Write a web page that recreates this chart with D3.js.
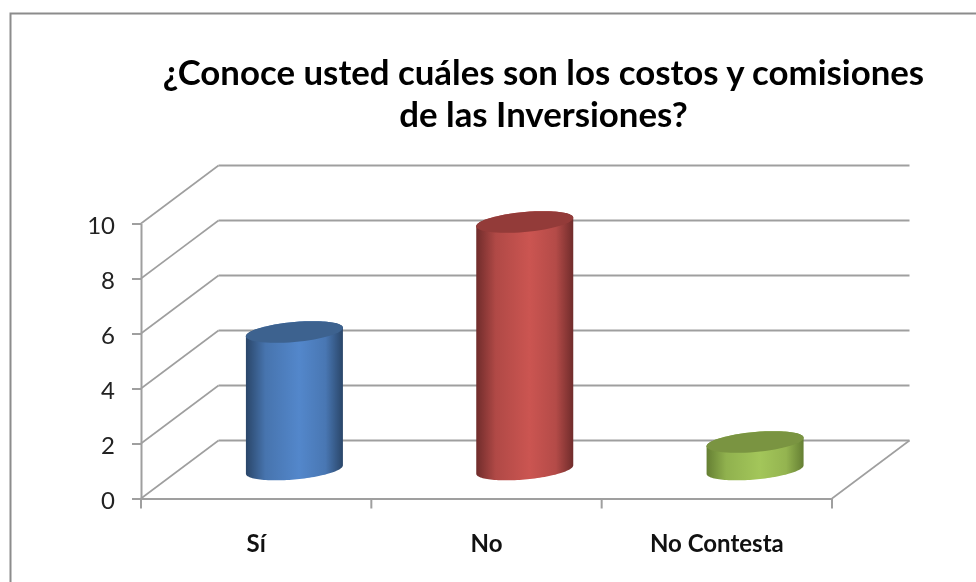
<!DOCTYPE html>
<html><head><meta charset="utf-8">
<style>html,body{margin:0;padding:0;background:#fff;overflow:hidden}svg{display:block;filter:blur(0.5px)}</style>
<script src="https://cdn.jsdelivr.net/npm/d3@7"></script></head>
<body><svg id="c" width="976" height="582"></svg>
<script>
const titleLines = ["¿Conoce usted cuáles son los costos y comisiones", "de las Inversiones?"];
const categories = ["Sí", "No", "No Contesta"];
const values = [5, 9, 1];
const yTicks = [0, 2, 4, 6, 8, 10];
const sideColors = ["#2a4669", "#702c2b", "#657f33"];
const midColors = ["#5387cb", "#cb5551", "#a3c65a"];
const topColors = ["#3d628f", "#933b39", "#7a9441"];

const svg = d3.select("#c");
const font = "Lato, 'Open Sans', sans-serif";

const depth = {x: 77.5, y: -58};
const x = d3.scaleBand().domain(categories).range([141, 832]);
const y = d3.scaleLinear().domain([0, 10]).range([498.5, 223.5]);

// frame
svg.append("path").attr("d", "M10.5,582V13.5H976").attr("fill", "none").attr("stroke", "#8c8c8c").attr("stroke-width", 2);

// title
svg.append("g").selectAll("text").data(titleLines).join("text")
  .attr("x", 543.5).attr("y", (d, i) => 85 + i * 42)
  .attr("text-anchor", "middle").attr("font-family", font).attr("font-weight", 700)
  .attr("font-size", 34.8).attr("fill", "#000").text(d => d);

// walls and gridlines
const grid = svg.append("g").attr("fill", "none").attr("stroke", "#9f9f9f");
grid.selectAll("path.wall").data(yTicks).join("path").attr("class", "wall")
  .attr("stroke-width", 1.6)
  .attr("d", d => `M${x.range()[0]},${y(d)}L${x.range()[0] + depth.x},${y(d) + depth.y}`);
grid.selectAll("line.gl").data(yTicks).join("line").attr("class", "gl")
  .attr("stroke-width", 2)
  .attr("x1", x.range()[0] + depth.x).attr("x2", x.range()[1] + depth.x)
  .attr("y1", d => y(d) + depth.y).attr("y2", d => y(d) + depth.y);
grid.append("path").attr("stroke-width", 1.6)
  .attr("d", `M${x.range()[1]},${y(0)}L${x.range()[1] + depth.x},${y(0) + depth.y}`);

// axes
const yAxis = svg.append("g").attr("transform", `translate(${x.range()[0]},0)`)
  .call(d3.axisLeft(y).tickValues(yTicks).tickSize(9).tickPadding(17).tickSizeOuter(0));
const xAxis = svg.append("g").attr("transform", `translate(0,${y(0)})`)
  .call(d3.axisBottom(x).tickSize(0).tickPadding(36).tickSizeOuter(0));
xAxis.selectAll(".edge").data(x.domain().map(d => x(d)).concat([x.range()[1]])).join("line")
  .attr("class", "edge").attr("x1", d => d).attr("x2", d => d).attr("y1", 0).attr("y2", 10)
  .attr("stroke", "#9f9f9f").attr("stroke-width", 2);
[yAxis, xAxis].forEach(a => {
  a.selectAll(".domain").attr("stroke", "#9f9f9f").attr("stroke-width", 2);
  a.selectAll(".tick line").attr("stroke", "#9f9f9f").attr("stroke-width", 2);
});
yAxis.selectAll("text").attr("font-family", font).attr("font-size", 24).attr("fill", "#222").attr("dy", "0.4em");
xAxis.selectAll("text").attr("font-family", font).attr("font-size", 24).attr("font-weight", 700).attr("fill", "#111");

// cylinders
const defs = svg.append("defs");
categories.forEach((c, i) => {
  const g = defs.append("linearGradient").attr("id", "g" + i);
  [[0, sideColors[i]], [.2, d3.interpolateRgb(sideColors[i], midColors[i])(.7)], [.55, midColors[i]], [.82, d3.interpolateRgb(sideColors[i], midColors[i])(.75)], [1, sideColors[i]]]
    .forEach(s => g.append("stop").attr("offset", s[0]).attr("stop-color", s[1]));
});
const barW = 97, rx = barW / 2, ry = 10, shear = 4.2;
const ellipsePt = (cx, cy, t) => [cx + rx * Math.cos(t), cy + ry * Math.sin(t) - shear * Math.cos(t)];
const arcPath = (cx, cy, a0, a1) => d3.range(0, 61).map(k => ellipsePt(cx, cy, a0 + (a1 - a0) * k / 60));
const line = d3.line();
const bars = svg.append("g").selectAll("g").data(categories.map((c, i) => ({c, v: values[i], i}))).join("g");
bars.each(function (d) {
  const cx = x(d.c) + x.bandwidth() / 2 + depth.x / 2 - 0.5;
  const cy0 = y(0) + depth.y / 2;
  const cy1 = y(d.v) + depth.y / 2;
  const g = d3.select(this);
  const side = arcPath(cx, cy0, 0, Math.PI).concat(arcPath(cx, cy1, Math.PI, 2 * Math.PI));
  g.append("path").attr("d", line(side) + "Z").attr("fill", `url(#g${d.i})`);
  g.append("path").attr("d", line(arcPath(cx, cy1, 0, 2 * Math.PI)) + "Z").attr("fill", topColors[d.i]);
});
</script></body></html>
